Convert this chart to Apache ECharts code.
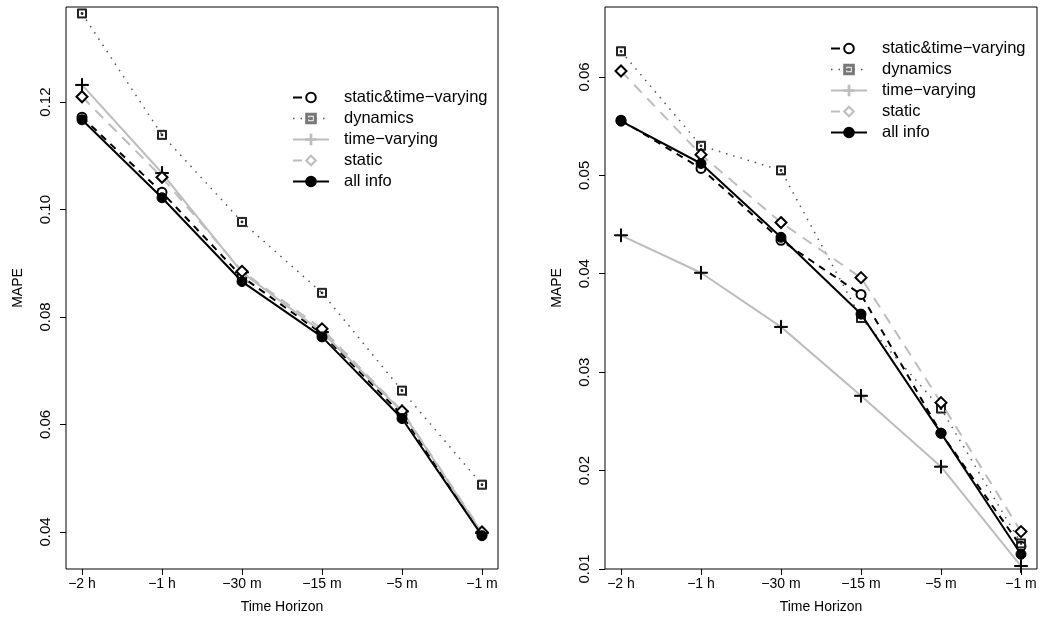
<!DOCTYPE html>
<html>
<head>
<meta charset="utf-8">
<script src="https://cdn.jsdelivr.net/npm/echarts@6/dist/echarts.min.js"></script>
<style>
html,body{margin:0;padding:0;background:#fff;}
#chart{width:1064px;height:625px;}
</style>
</head>
<body>
<div id="chart"></div>
<script>
// ---------- data ----------
const categories = ['\u22122 h', '\u22121 h', '\u221230 m', '\u221215 m', '\u22125 m', '\u22121 m'];
const seriesNames = ['static&time\u2212varying', 'dynamics', 'time\u2212varying', 'static', 'all info'];

const leftStaticTimeVarying = [0.1172, 0.1032, 0.0875, 0.0769, 0.0618, 0.0396];
const leftDynamics          = [0.1365, 0.1139, 0.0977, 0.0845, 0.0663, 0.0488];
const leftTimeVarying       = [0.1232, 0.1068, 0.0883, 0.0772, 0.0624, 0.0398];
const leftStatic            = [0.1210, 0.1060, 0.0885, 0.0778, 0.0625, 0.0400];
const leftAllInfo           = [0.1167, 0.1022, 0.0866, 0.0763, 0.0611, 0.0393];

const rightStaticTimeVarying = [0.0556, 0.0507, 0.0434, 0.0379, 0.0238, 0.0123];
const rightDynamics          = [0.0626, 0.0530, 0.0505, 0.0355, 0.0263, 0.0126];
const rightTimeVarying       = [0.0439, 0.0401, 0.0346, 0.0276, 0.0204, 0.0103];
const rightStatic            = [0.0606, 0.0521, 0.0452, 0.0396, 0.0269, 0.0138];
const rightAllInfo           = [0.0555, 0.0512, 0.0437, 0.0359, 0.0238, 0.0115];

const leftYTicks  = [0.04, 0.06, 0.08, 0.10, 0.12];
const rightYTicks = [0.01, 0.02, 0.03, 0.04, 0.05, 0.06];

const xAxisTitle = 'Time Horizon';
const yAxisTitle = 'MAPE';

// ---------- styles ----------
const FONT = 'Liberation Sans, Arial, Helvetica, sans-serif';
const AXFS = 15;
const PLUS = 'path://M6,0H7V6H13V7H7V13H6V7H0V6H6Z';
const SQDOT = 'path://M0,0H9V9H0Z M1,1V8H8V1Z M3.7,3.7H5.3V5.3H3.7Z';

const styles = [
  { symbol: 'emptyCircle', size: 9, line: { color: '#000', width: 2, type: [7, 6] }, legendLine: [9, 60], mark: '#000', legendMark: '#000' },
  { symbol: SQDOT, size: 9, line: { color: '#555', width: 1.5, type: [1.5, 6] }, legendLine: [1.5, 6], mark: '#222', legendMark: '#777' },
  { symbol: PLUS, size: 13, line: { color: '#bdbdbd', width: 2, type: 'solid' }, legendLine: 'solid', mark: '#000', legendMark: '#bdbdbd' },
  { symbol: 'emptyDiamond', size: 11, line: { color: '#bdbdbd', width: 2, type: [11, 8] }, legendLine: [9, 60], mark: '#000', legendMark: '#bdbdbd' },
  { symbol: 'circle', size: 10, line: { color: '#000', width: 2, type: 'solid' }, legendLine: 'solid', mark: '#000', legendMark: '#000' }
];

const leftData  = [leftStaticTimeVarying, leftDynamics, leftTimeVarying, leftStatic, leftAllInfo];
const rightData = [rightStaticTimeVarying, rightDynamics, rightTimeVarying, rightStatic, rightAllInfo];
const xPositions = categories.map((c, i) => i + 1);

function makeSeries(values, idx, gi) {
  const st = styles[idx];
  return {
    type: 'line',
    name: seriesNames[idx],
    xAxisIndex: gi,
    yAxisIndex: gi,
    data: values.map((v, i) => [xPositions[i], v]),
    symbol: st.symbol,
    symbolSize: st.size,
    showAllSymbol: true,
    animation: false,
    lineStyle: { color: st.line.color, width: st.line.width, type: st.line.type },
    itemStyle: { color: st.mark, borderColor: st.mark, borderWidth: 1 },
    emphasis: { disabled: true },
    z: 2 + idx
  };
}

const series = [];
leftData.forEach((d, i) => series.push(makeSeries(d, i, 0)));
rightData.forEach((d, i) => series.push(makeSeries(d, i, 1)));

const legendData = seriesNames.map((n, i) => ({
  name: n,
  itemStyle: { color: styles[i].legendMark, borderColor: styles[i].legendMark },
  lineStyle: { color: styles[i].line.color, width: styles[i].line.width, type: styles[i].legendLine }
}));

function makeLegend(left, top) {
  return {
    orient: 'vertical', left: left, top: top,
    itemWidth: 36, itemHeight: 12, itemGap: 4,
    selectedMode: false,
    textStyle: { fontSize: 16.5, fontFamily: FONT, color: '#000', padding: [0, 0, 0, 10] },
    data: legendData
  };
}

function makeXAxis(gi) {
  return {
    type: 'value', gridIndex: gi, min: 0.8, max: 6.2,
    name: xAxisTitle, nameLocation: 'middle', nameGap: 31,
    nameTextStyle: { fontSize: 14, fontFamily: FONT, color: '#000' },
    axisLine: { show: false },
    axisTick: { show: true, inside: false, length: 6, customValues: xPositions, lineStyle: { color: '#000' } },
    axisLabel: { customValues: xPositions, margin: 8, fontSize: 14, fontFamily: FONT, color: '#000',
      formatter: v => categories[Math.round(v) - 1] },
    splitLine: { show: false }
  };
}

function makeYAxis(gi, min, max, ticks) {
  return {
    type: 'value', gridIndex: gi, min: min, max: max,
    name: yAxisTitle, nameLocation: 'middle', nameGap: 41,
    nameTextStyle: { fontSize: 14, fontFamily: FONT, color: '#000' },
    axisLine: { show: false },
    axisTick: { show: true, length: 6, customValues: ticks, lineStyle: { color: '#000' } },
    axisLabel: { customValues: ticks, rotate: 90, margin: 13, fontSize: AXFS, fontFamily: FONT, color: '#000',
      formatter: v => v.toFixed(2) },
    splitLine: { show: false }
  };
}

const chart = echarts.init(document.getElementById('chart'), null, { renderer: 'canvas' });
chart.setOption({
  backgroundColor: '#fff',
  animation: false,
  textStyle: { fontFamily: FONT },
  grid: [
    { left: 66, top: 7, width: 432, height: 562, show: true, borderColor: '#000', borderWidth: 1, backgroundColor: 'transparent' },
    { left: 605, top: 7, width: 432, height: 562, show: true, borderColor: '#000', borderWidth: 1, backgroundColor: 'transparent' }
  ],
  legend: [makeLegend(287, 84), makeLegend(825, 35)],
  xAxis: [makeXAxis(0), makeXAxis(1)],
  yAxis: [makeYAxis(0, 0.0331, 0.1377, leftYTicks), makeYAxis(1, 0.01, 0.0671, rightYTicks)],
  series: series
});
</script>
</body>
</html>
